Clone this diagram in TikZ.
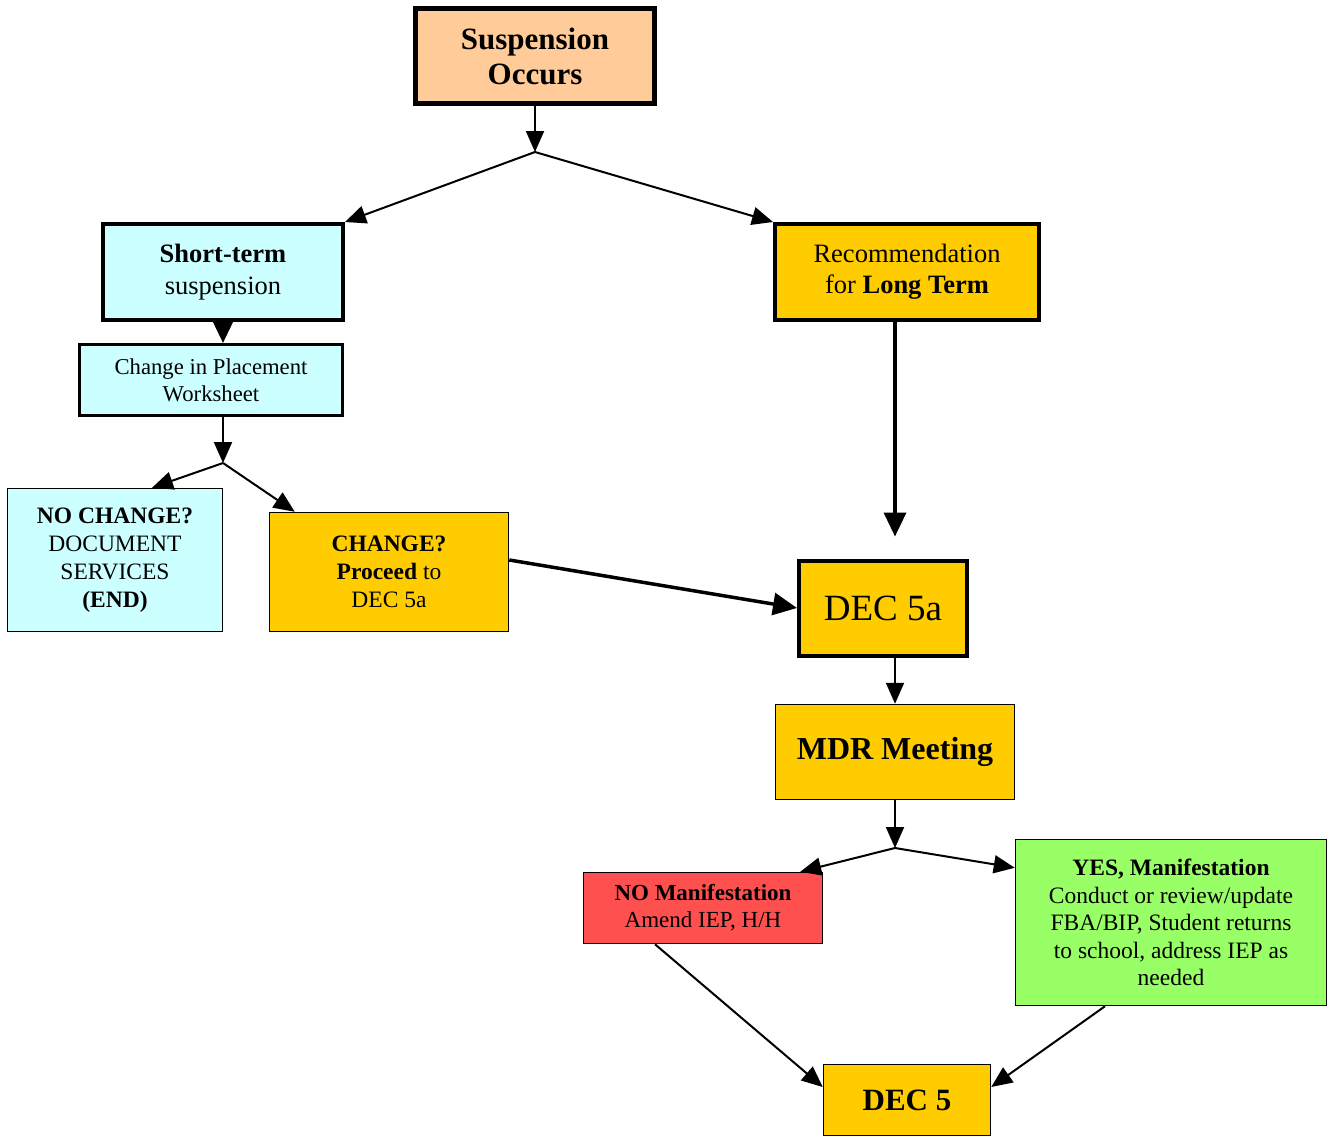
\documentclass[tikz,border=0pt]{standalone}
\usepackage{fontspec}
\setmainfont{Liberation Serif}
\usetikzlibrary{arrows.meta}
\definecolor{peach}{HTML}{FFCC99}
\definecolor{cyanbox}{HTML}{CCFFFF}
\definecolor{gold}{HTML}{FFCC00}
\definecolor{redbox}{HTML}{FF5050}
\definecolor{greenbox}{HTML}{99FF66}
\newcommand{\fs}[2]{\fontsize{#1pt}{#2pt}\selectfont}
\tikzset{
  box/.style={draw=black, rectangle, align=center, inner sep=0pt, line width=1.5pt},
  conn/.style={line width=2pt, -{Triangle[length=21pt,width=18pt]}},
  thickconn/.style={line width=3.5pt, -{Triangle[length=24pt,width=22pt]}}
}
\begin{document}
\begin{tikzpicture}[x=1pt,y=-1pt]
\useasboundingbox (0,0) rectangle (1334,1136);
% nodes
\node[box, fill=peach, line width=5pt, minimum width=239pt, minimum height=95pt, font=\fs{31}{35}\bfseries] (sus) at (535,56) {Suspension\\Occurs};
\node[box, fill=cyanbox, line width=4pt, minimum width=240pt, minimum height=96pt, font=\fs{26.5}{32}] (st) at (223,272) {{\bfseries Short-term}\\suspension};
\node[box, fill=gold, line width=4pt, minimum width=264pt, minimum height=96pt, font=\fs{26.5}{31}] (rec) at (907,272) {Recommendation\\for {\bfseries Long Term}};
\node[box, fill=cyanbox, line width=3pt, minimum width=263pt, minimum height=71pt, font=\fs{22.7}{27}] (cip) at (211,380) {Change in Placement\\Worksheet};
\node[box, fill=cyanbox, minimum width=215pt, minimum height=143pt, font=\fs{23.5}{28}] (nc) at (115,560) {{\bfseries NO CHANGE?}\\DOCUMENT\\SERVICES\\{\bfseries (END)}};
\node[box, fill=gold, minimum width=239pt, minimum height=119pt, font=\fs{23.5}{28}] (ch) at (389,572) {{\bfseries CHANGE?}\\{\bfseries Proceed} to\\DEC 5a};
\node[box, fill=gold, line width=4pt, minimum width=168pt, minimum height=95pt, font=\fs{37}{40}] (d5a) at (883,608) {DEC 5a};
\node[box, fill=gold, minimum width=239pt, minimum height=95pt, font=\fs{32}{36}\bfseries] (mdr) at (895,752) {MDR Meeting};
\node[box, fill=redbox, minimum width=239pt, minimum height=71pt, font=\fs{23}{27}] (nom) at (703,908) {{\bfseries NO Manifestation}\\Amend IEP, H/H};
\node[box, fill=greenbox, minimum width=311pt, minimum height=166pt, font=\fs{23.5}{27.5}] (yes) at (1171,922.5) {{\bfseries YES, Manifestation}\\Conduct or review/update\\FBA/BIP, Student returns\\to school, address IEP as\\needed};
\node[box, fill=gold, minimum width=167pt, minimum height=71pt, font=\fs{31}{35}\bfseries] (d5) at (907,1100) {DEC 5};
% junctions
\coordinate (j1) at (535,152);
\coordinate (j2) at (223,463);
\coordinate (j3) at (895,848);
% connectors
\draw[conn] (sus.south) -- (j1);
\draw[conn] (j1) -- (st.north east);
\draw[conn] (j1) -- (rec.north west);
\draw[thickconn] (st.south) -- (st.south |- cip.north);
\draw[conn] (st.south |- cip.south) -- (j2);
\draw[conn] (j2) -- ([xshift=37pt]nc.north);
\draw[conn] (j2) -- ([xshift=26pt]ch.north west);
\draw[thickconn] ([yshift=12pt]ch.east) -- (d5a.west);
\draw[thickconn, shorten >=22pt] ([xshift=-12pt]rec.south) -- ([xshift=12pt]d5a.north);
\draw[conn] (d5a.south -| mdr.north) -- (mdr.north);
\draw[conn] (mdr.south) -- (j3);
\draw[conn] (j3) -- ([xshift=-23pt]nom.north east);
\draw[conn] (j3) -- ([yshift=-29pt]yes.north west);
\draw[conn] ([xshift=-48pt]nom.south) -- ([yshift=13pt]d5.west);
\draw[conn] ([xshift=-66pt]yes.south) -- ([yshift=13pt]d5.east);
\end{tikzpicture}
\end{document}
